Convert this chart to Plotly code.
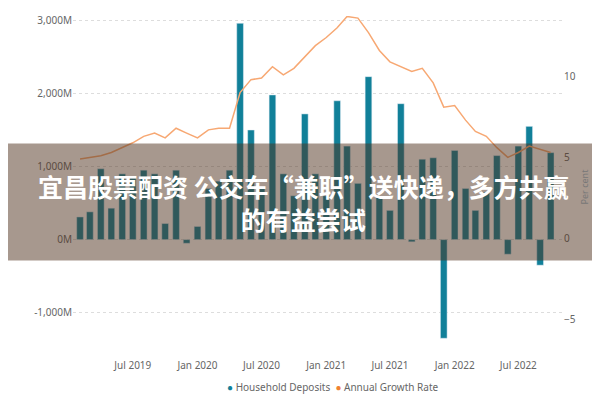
import pandas as pd
import plotly.graph_objects as go

# monthly, Feb 2019 .. Oct 2022
months = pd.date_range("2019-02-01", periods=45, freq="MS")
deposits = [310, 380, 970, 430, 900, 850, 950, 900, 220, 950, -50, 180,
            700, 800, 950, 2960, 1500, 700, 1980, 900, 600, 1720, 900, 600,
            1900, 1280, 770, 2230, 580, 400, 1860, -30, 1100, 1120, -1350, 1220,
            700, 400, 650, 1150, -200, 1280, 1550, -350, 1190]
growth = [4.9, 5.0, 5.1, 5.3, 5.6, 5.9, 6.3, 6.5, 6.2, 6.8, 6.5, 6.2,
          6.7, 6.8, 6.8, 9.0, 9.8, 9.9, 10.6, 10.1, 10.5, 11.2, 11.9, 12.4,
          13.0, 13.7, 13.6, 12.7, 11.6, 10.9, 10.6, 10.3, 10.5, 9.6, 8.1, 8.2,
          7.3, 6.6, 6.3, 5.6, 5.0, 5.3, 5.7, 5.5, 5.3]
left_ticks = [-1000, 0, 1000, 2000, 3000]
left_labels = ["-1,000M", "0M", "1,000M", "2,000M", "3,000M"]

teal = "rgb(17,128,153)"
orange = "rgb(247,168,115)"
font = "Segoe UI, Noto Sans, sans-serif"

fig = go.Figure()
fig.add_trace(go.Bar(x=months, y=deposits, marker_color=teal, width=1000*3600*24*19,
                     showlegend=False))
fig.add_trace(go.Scatter(x=months, y=growth, yaxis="y2", mode="lines",
                         line=dict(color=orange, width=1.5), showlegend=False))

fig.update_layout(
    width=600, height=400,
    margin=dict(l=65, r=45, t=5, b=50),
    plot_bgcolor="white", paper_bgcolor="white",
    font=dict(family=font, size=10, color="#666"),
    showlegend=False,
    xaxis=dict(range=["2019-01-12", "2022-11-05"], showgrid=False,
               tickvals=pd.date_range("2019-07-01", periods=7, freq="6MS"),
               tickformat="%b %Y", ticks=""),
    yaxis=dict(range=[-1620, 3060], tickvals=left_ticks, ticktext=left_labels,
               showgrid=True, gridcolor="#ddd", griddash="dot", zeroline=False),
    yaxis2=dict(range=[-7.39, 13.73], overlaying="y", side="right",
                tickvals=[-5, 0, 5, 10], showgrid=False, zeroline=False,
                title=dict(text="Per cent", standoff=6, font=dict(size=9, color="#777"))),
)

# legend drawn as text with round markers
fig.add_annotation(xref="paper", yref="paper", x=0.53, y=-0.085, yanchor="middle",
                   showarrow=False, font=dict(size=10, color="#666"),
                   text=f"<span style='color:{teal}'>●</span> Household Deposits  "
                        "<span style='color:rgb(240,130,50)'>●</span> Annual Growth Rate")

fig.add_shape(type="rect", xref="paper", yref="paper",
              x0=-0.14, x1=1.1, y0=0.285, y1=0.627,
              fillcolor="rgba(80,50,30,0.5)", line_width=0, layer="above")
fig.add_annotation(xref="paper", yref="paper", x=0.47, y=0.456,
                   text="<b>宜昌股票配资 公交车“兼职”送快递，多方共赢<br>的有益尝试</b>",
                   showarrow=False,
                   font=dict(family="Noto Sans CJK SC", size=25, color="white"))

fig.write_html("out.html")
